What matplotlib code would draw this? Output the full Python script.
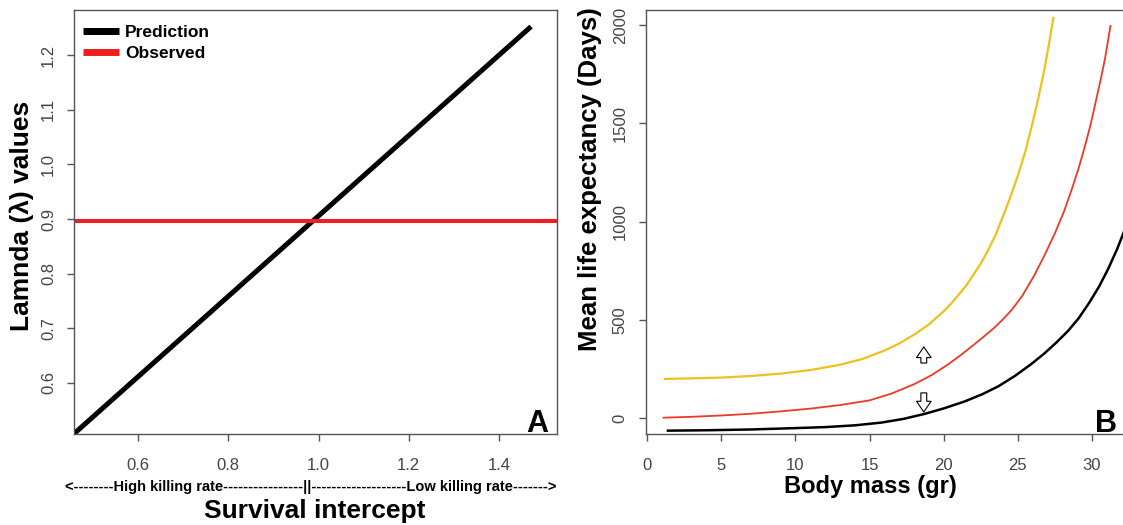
import matplotlib
matplotlib.use("Agg")
import matplotlib.pyplot as plt

plt.rcParams['font.family'] = ['Liberation Sans', 'DejaVu Sans']

# panel A: lambda against survival intercept
survival = [0.458, 1.471]
lam_pred = [0.507, 1.252]
lam_obs = 0.897
a_xticks = [0.6, 0.8, 1.0, 1.2, 1.4]
a_yticks = [0.6, 0.7, 0.8, 0.9, 1.0, 1.1, 1.2]

# panel B: mean life expectancy against body mass
mass_y = [1.2, 3, 5, 7, 9, 11, 13, 14.5, 16, 17, 18, 19, 20, 20.5, 21, 21.5, 22,
          22.5, 23, 23.5, 24, 24.5, 25, 25.5, 26, 26.4, 26.8, 27.1, 27.4]
life_y = [200, 203, 207, 215, 227, 245, 272, 301, 344, 380, 425, 477, 544, 583,
          627, 673, 729, 786, 855, 932, 1027, 1125, 1233, 1354, 1503, 1632, 1777,
          1901, 2035]
mass_r = [1.1, 3, 5, 7, 9, 11, 13, 15, 16.5, 18, 19.2, 20.3, 21.2, 22.1, 22.8,
          23.4, 24.0, 24.6, 25.3, 26.1, 26.8, 27.5, 28.1, 28.6, 29.1, 29.5, 29.9,
          30.2, 30.6, 30.9, 31.25]
life_r = [3, 7.5, 14, 23, 35, 49, 67, 91, 126, 173, 220, 274, 324, 378, 421,
          459, 503, 552, 622, 725, 828, 940, 1048, 1155, 1270, 1375, 1490, 1590,
          1725, 1835, 1995]
mass_k = [1.4, 4, 7, 10, 12, 14, 15.8, 17.3, 18.7, 20, 21.4, 22.6, 23.7, 24.8,
          25.9, 26.8, 27.6, 28.4, 29.1, 29.8, 30.5, 31.1, 31.7, 32.3]
life_k = [-63, -61, -57, -50, -45, -36, -22, -3, 22, 50, 85, 122, 163, 215,
          275, 330, 385, 445, 508, 585, 672, 760, 860, 975]
arrow_x = 18.66
arrow_up = (281, 363)
arrow_down = (129, 32)
b_xticks = [0, 5, 10, 15, 20, 25, 30]
b_yticks = [0, 500, 1000, 1500, 2000]

W, H = 1123, 525
fig = plt.figure(figsize=(W / 100, H / 100), dpi=100)

def box(l, t, r, b):
    return [l / W, 1 - b / H, (r - l) / W, (b - t) / H]

axA = fig.add_axes(box(74, 10, 557, 434))
axB = fig.add_axes(box(645.7, 10, 1126, 434))

for ax in (axA, axB):
    for s in ax.spines.values():
        s.set_color('#555555')
        s.set_linewidth(1.0)
    ax.tick_params(colors='#555555', labelcolor='#444444', labelsize=12,
                   length=5, width=1.0)
    ax.tick_params(axis='x', pad=12.5)
    ax.tick_params(axis='y', labelrotation=90, pad=8)

axA.plot(survival, lam_pred, color='black', lw=3.6, solid_capstyle='butt',
         label='Prediction')
axA.axhline(lam_obs, color='#F01E1E', lw=2.9, solid_capstyle='butt',
            label='Observed')
axA.set_xlim(0.4582, 1.5285)
axA.set_ylim(0.5067, 1.2823)
axA.set_xticks(a_xticks)
axA.set_xticklabels([f'{v:.1f}' for v in a_xticks])
axA.set_yticks(a_yticks)
axA.set_yticklabels([f'{v:.1f}' for v in a_yticks], va='center')
leg = axA.legend(loc='upper left', bbox_to_anchor=(0.018, 0.964), frameon=False,
                 prop={'weight': 'bold', 'size': 12.5}, handlelength=2.1,
                 handletextpad=0.35, labelspacing=0.3, borderpad=0, borderaxespad=0)
for h in leg.get_lines():
    h.set_linewidth(5)
axA.text(0.981, 0.005, 'A', transform=axA.transAxes, ha='right', va='baseline',
         fontsize=22, fontweight='bold')

axB.plot(mass_y, life_y, color='#EEC21C', lw=1.6)
axB.plot(mass_r, life_r, color='#EE3A22', lw=1.3)
axB.plot(mass_k, life_k, color='black', lw=1.8)
style = 'simple,head_width=0.75,head_length=0.55,tail_width=0.3'
for y0, y1 in (arrow_up, arrow_down):
    axB.annotate('', xy=(arrow_x, y1), xytext=(arrow_x, y0),
                 arrowprops=dict(arrowstyle=style, fc='white', ec='black', lw=0.8,
                                 mutation_scale=14, shrinkA=0, shrinkB=0))
axB.set_xlim(-0.1, 32.3)
axB.set_ylim(-80, 2076)
axB.set_xticks(b_xticks)
axB.set_yticks(b_yticks)
axB.set_yticklabels([str(v) for v in b_yticks], va='center')
fig.text(1117 / W, 1 - 432 / H, 'B', ha='right', va='baseline',
         fontsize=22, fontweight='bold')

# axis titles
fig.text(22 / W, 1 - 216 / H, 'Lamnda (\u03bb) values', rotation=90, ha='center',
         va='center', fontsize=19, fontweight='bold')
fig.text(311 / W, 1 - 487 / H,
         '<--------High killing rate----------------||-------------------Low killing rate------->',
         ha='center', va='center', fontsize=10.5, fontweight='bold')
fig.text(315 / W, 1 - 511 / H, 'Survival intercept', ha='center', va='center',
         fontsize=19, fontweight='bold')
fig.text(590 / W, 1 - 179 / H, 'Mean life expectancy (Days)', rotation=90,
         ha='center', va='center', fontsize=18.5, fontweight='bold')
fig.text(870 / W, 1 - 487 / H, 'Body mass (gr)', ha='center', va='center',
         fontsize=17, fontweight='bold')

fig.savefig('out.png', dpi=100)
